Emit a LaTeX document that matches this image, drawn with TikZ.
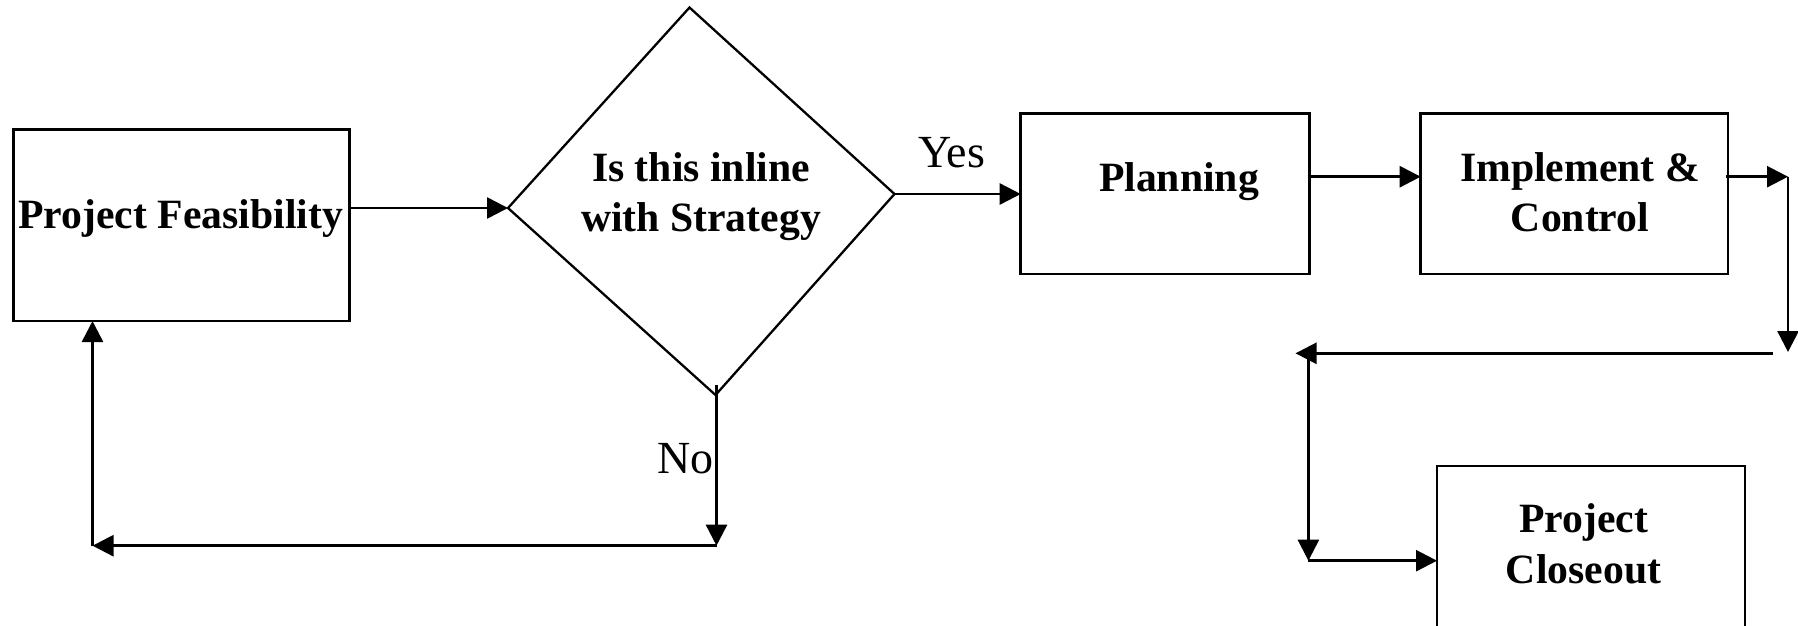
\documentclass[tikz,border=0pt]{standalone}
\usepackage{fontspec}
\setmainfont{Liberation Serif}
\usetikzlibrary{arrows.meta,calc}
\begin{document}
\begin{tikzpicture}[x=1pt,y=-1pt,
  box/.style={draw, line width=2.9pt, rectangle, inner sep=0pt, outer sep=0pt, anchor=north west},
  diam/.style={line width=2.3pt, line join=miter},
  boldtext/.style={font=\bfseries\fontsize{41.7}{50.5}\selectfont, inner sep=0pt, align=center, anchor=base},
  plaintext/.style={font=\fontsize{46}{55}\selectfont, inner sep=0pt, anchor=base},
  flow/.style={line width=2.6pt, -{Triangle[length=21pt,width=21pt]}}]
\useasboundingbox (0,0) rectangle (1798,625);
\clip (0,0) rectangle (1798,625);

% process boxes
\node[box, minimum width=336pt, minimum height=191.5pt] (pf) at (13.5,129.5) {};
\node[box, minimum width=288.8pt, minimum height=160.2pt] (plan) at (1020.7,113.8) {};
\node[box, minimum width=307.3pt, minimum height=160.2pt] (impl) at (1420.7,113.8) {};
\node[box, minimum width=308pt, minimum height=200pt] (close) at (1437,466) {};

% decision shape
\coordinate (dt) at (689.5,7.5);
\coordinate (dl) at (508,208);
\coordinate (dr) at (894.5,194);
\coordinate (db) at (715.5,395);
\draw[diam] (dt) -- (dr) -- (db) -- (dl) -- cycle;

% labels (multi-line labels are placed at the baseline of their last line)
\node[boldtext] (pftxt) at (180.8,228.3) {Project Feasibility};
\node[boldtext] (qtxt) at (701,231.5) {Is this inline\\with Strategy};
\node[plaintext] (yes) at (951.5,167.4) {Yes};
\node[plaintext] (no) at (685.4,473.3) {No};
\node[boldtext] (plantxt) at (1179,191.5) {Planning};
\node[boldtext] (impltxt) at (1580,231.7) {Implement \&\\Control};
\node[boldtext] (closetxt) at (1583.5,583.3) {Project\\Closeout};

% connector waypoints
\coordinate (ps) at (1307.5,176.7);
\coordinate (io) at (1725.5,176.7);
\coordinate (ic) at (1788,176.7);
\coordinate (id) at (1788,352);
\coordinate (hs) at (1773,353.3);
\coordinate (ht) at (1295.5,353.3);
\coordinate (vs) at (1308.4,353.3);
\coordinate (ve) at (1308.4,560.7);
\coordinate (ns) at (716.5,385);
\coordinate (ne) at (716.5,545.7);
\coordinate (fb) at (92.5,545.7);

% connectors
\draw[flow] (pf.east |- dl) -- (dl);
\draw[flow] (dr) -- (dr -| plan.west);
\draw[flow] (ps) -- (ps -| impl.west);
\draw[flow] (io) -- (ic);
\draw[flow] (ic) -- (id);
\draw[flow] (hs) -- (ht);
\draw[flow] (vs) -- (ve);
\draw[flow] (ve) -- (ve -| close.west);
\draw[flow] (ns) -- (ne);
\draw[flow] (ne) -- (fb);
\draw[flow] (fb) -- (fb |- pf.south);
\end{tikzpicture}
\end{document}
